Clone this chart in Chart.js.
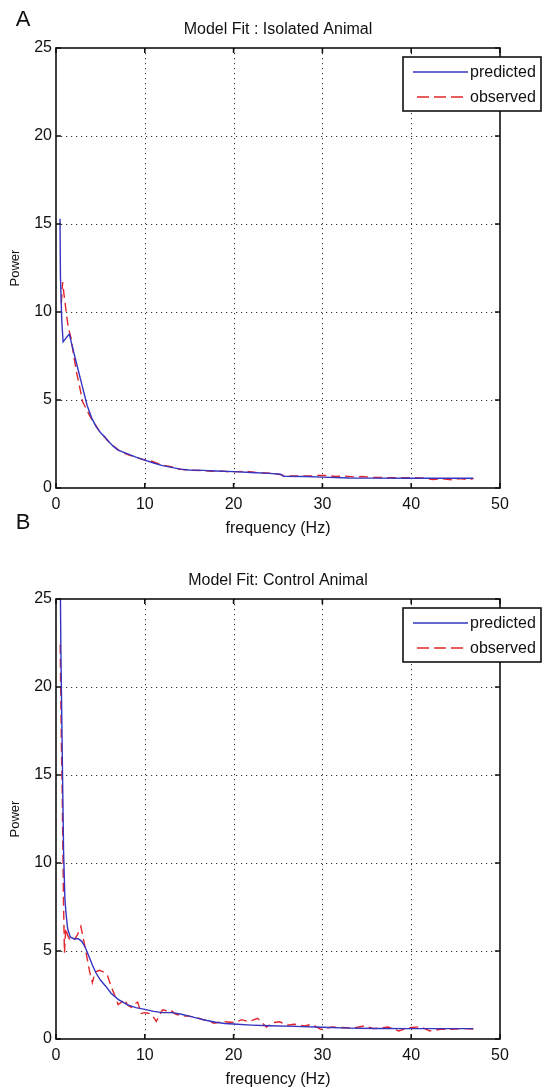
<!DOCTYPE html>
<html>
<head>
<meta charset="utf-8">
<script src="https://cdn.jsdelivr.net/npm/chart.js@4.4.1/dist/chart.umd.min.js"></script>
<style>
  html, body { margin: 0; padding: 0; background: #fff; }
  canvas { position: absolute; left: 0; }
</style>
</head>
<body>
<canvas id="chartA" width="545" height="545" style="top:0"></canvas>
<canvas id="chartB" width="545" height="589" style="top:500px"></canvas>
<script>
// ======================================================================
// DATA — power spectra (Hz vs power)
// ======================================================================
const xTicks = [0, 10, 20, 30, 40, 50];
const yTicks = [0, 5, 10, 15, 20, 25];

// Isolated animal — model prediction
const isoPredFreq  = [0.45, 0.5, 0.65, 0.8, 1.1, 1.5, 1.9, 2.3, 2.7, 3.1, 3.5, 4.0, 4.5, 5.0, 5.5, 6.0, 6.5, 7.0, 7.5, 8.0, 9.0, 10.0, 11.0, 12.0, 13.0, 14.0, 15.0, 16.5, 18.0, 20.0, 22.0, 24.0, 25.3, 25.6, 28.0, 30.0, 33.0, 36.0, 40.0, 44.0, 47.0];
const isoPredPower = [15.3, 12.0, 9.5, 8.3, 8.5, 8.75, 7.9, 7.1, 6.3, 5.5, 4.7, 4.0, 3.5, 3.15, 2.9, 2.6, 2.35, 2.15, 2.05, 1.95, 1.75, 1.58, 1.42, 1.27, 1.17, 1.07, 1.02, 1.0, 0.97, 0.93, 0.88, 0.83, 0.78, 0.67, 0.65, 0.62, 0.57, 0.56, 0.55, 0.55, 0.55];

// Isolated animal — observed spectrum
const isoObsFreq  = [0.6, 0.75, 0.9, 1.1, 1.3, 1.5, 1.7, 2.0, 2.3, 2.6, 3.0, 3.4, 3.8, 4.3, 4.8, 5.3, 5.8, 6.3, 6.8, 7.3, 7.8, 8.3, 8.8, 9.3, 9.8, 10.3, 10.8, 11.3, 11.8, 12.3, 12.8, 13.3, 13.8, 14.5, 15.5, 16.5, 17.5, 18.5, 19.5, 20.5, 21.5, 22.5, 23.5, 24.5, 25.5, 26.5, 27.5, 28.5, 29.5, 30.5, 31.5, 32.5, 33.5, 34.5, 35.5, 36.5, 37.5, 38.5, 39.5, 40.5, 41.5, 42.5, 43.5, 44.5, 45.5, 46.5, 47.0];
const isoObsPower = [10.5, 11.7, 11.0, 10.2, 9.4, 8.9, 8.5, 7.5, 6.6, 5.9, 4.9, 4.5, 4.1, 3.7, 3.3, 3.0, 2.7, 2.45, 2.25, 2.05, 1.95, 1.85, 1.8, 1.7, 1.62, 1.57, 1.52, 1.42, 1.32, 1.27, 1.22, 1.17, 1.08, 1.03, 1.0, 0.99, 0.95, 0.97, 0.92, 0.93, 0.95, 0.88, 0.85, 0.83, 0.73, 0.68, 0.68, 0.68, 0.71, 0.71, 0.65, 0.68, 0.63, 0.65, 0.6, 0.6, 0.58, 0.58, 0.58, 0.58, 0.55, 0.48, 0.53, 0.47, 0.53, 0.47, 0.53];

// Control animal — model prediction
const ctlPredFreq  = [0.42, 0.55, 0.7, 0.85, 1.0, 1.1, 1.3, 1.6, 2.0, 2.5, 2.9, 3.3, 3.7, 4.1, 4.5, 5.0, 5.6, 6.2, 7.0, 8.0, 9.0, 10.0, 11.0, 12.0, 13.0, 14.0, 15.0, 16.0, 17.0, 18.0, 19.0, 20.0, 22.0, 24.0, 27.0, 30.0, 33.0, 36.0, 40.0, 44.0, 47.0];
const ctlPredPower = [30.0, 22.0, 16.4, 10.7, 8.0, 7.3, 6.3, 5.8, 5.7, 5.7, 5.55, 5.2, 4.7, 4.2, 3.75, 3.35, 3.0, 2.6, 2.25, 1.95, 1.78, 1.68, 1.57, 1.5, 1.5, 1.42, 1.3, 1.17, 1.05, 0.95, 0.88, 0.85, 0.79, 0.75, 0.72, 0.67, 0.62, 0.6, 0.59, 0.59, 0.59];

// Control animal — observed spectrum
const ctlObsFreq  = [0.47, 0.6, 0.7, 0.78, 0.85, 0.95, 1.1, 1.3, 1.6, 2.0, 2.4, 2.8, 3.2, 3.5, 3.8, 4.1, 4.4, 4.9, 5.4, 5.8, 6.2, 6.6, 7.0, 7.4, 7.7, 8.1, 8.5, 8.9, 9.2, 9.6, 10.0, 10.5, 10.9, 11.3, 11.7, 12.0, 12.5, 12.9, 13.5, 14.0, 14.5, 15.0, 15.5, 16.0, 16.5, 17.0, 17.8, 18.4, 19.0, 20.1, 20.9, 21.7, 22.7, 23.7, 24.4, 25.2, 26.0, 26.8, 28.0, 28.8, 29.8, 31.1, 32.7, 33.5, 34.7, 35.8, 37.4, 38.6, 39.8, 41.0, 42.1, 43.3, 44.5, 45.9, 47.0];
const ctlObsPower = [22.4, 17.0, 14.0, 10.5, 7.7, 4.9, 6.3, 5.9, 5.6, 5.6, 5.9, 6.4, 5.4, 4.6, 3.8, 3.2, 3.8, 3.9, 3.8, 3.6, 3.0, 2.5, 1.95, 2.1, 2.25, 1.9, 1.8, 2.0, 2.1, 1.45, 1.5, 1.45, 1.3, 1.0, 1.4, 1.66, 1.6, 1.65, 1.4, 1.35, 1.3, 1.3, 1.25, 1.2, 1.1, 1.05, 0.9, 0.95, 0.98, 0.93, 1.1, 0.98, 1.18, 0.68, 0.93, 0.98, 0.78, 0.84, 0.74, 0.84, 0.55, 0.68, 0.64, 0.62, 0.74, 0.59, 0.68, 0.46, 0.64, 0.7, 0.46, 0.55, 0.55, 0.59, 0.57];

const BLUE = "#3434c0";
const RED = "#e2262b";
const FONT = "'Liberation Sans', Arial, sans-serif";

function toPoints(xs, ys) {
  return xs.map((x, i) => ({ x, y: ys[i] }));
}

// ======================================================================
// MATLAB-STYLE FRAME, DOTTED GRID, LEGEND AND LABELS
// ======================================================================
function panelDecor(cfg) {
  return {
    id: "panelDecor",
    beforeDatasetsDraw(chart) {
      const { ctx, chartArea: a, scales: { x, y } } = chart;
      ctx.save();
      ctx.strokeStyle = "#333";
      ctx.lineWidth = 1;
      ctx.setLineDash([1.2, 3.8]);
      ctx.beginPath();
      xTicks.slice(1, -1).forEach(v => {
        const px = Math.round(x.getPixelForValue(v)) + 0.5;
        ctx.moveTo(px, a.top); ctx.lineTo(px, a.bottom);
      });
      yTicks.slice(1, -1).forEach(v => {
        const py = Math.round(y.getPixelForValue(v)) + 0.5;
        ctx.moveTo(a.left, py); ctx.lineTo(a.right, py);
      });
      ctx.stroke();
      ctx.restore();
    },
    afterDraw(chart) {
      const { ctx, chartArea: a, scales: { x, y } } = chart;
      ctx.save();

      // box + inward ticks
      ctx.strokeStyle = "#111";
      ctx.lineWidth = 1.6;
      ctx.strokeRect(a.left, a.top, a.right - a.left, a.bottom - a.top);
      ctx.beginPath();
      const tl = 5;
      xTicks.forEach(v => {
        const px = x.getPixelForValue(v);
        ctx.moveTo(px, a.bottom); ctx.lineTo(px, a.bottom - tl);
        ctx.moveTo(px, a.top); ctx.lineTo(px, a.top + tl);
      });
      yTicks.forEach(v => {
        const py = y.getPixelForValue(v);
        ctx.moveTo(a.left, py); ctx.lineTo(a.left + tl, py);
        ctx.moveTo(a.right, py); ctx.lineTo(a.right - tl, py);
      });
      ctx.stroke();

      // legend
      const lx = a.right - 97, ly = a.top + 9, lw = 138, lh = 54;
      ctx.fillStyle = "#fff";
      ctx.fillRect(lx, ly, lw, lh);
      ctx.lineWidth = 1.6;
      ctx.strokeStyle = "#111";
      ctx.strokeRect(lx, ly, lw, lh);
      ctx.lineWidth = 1.4;
      ctx.strokeStyle = BLUE;
      ctx.beginPath(); ctx.moveTo(lx + 10, ly + 15); ctx.lineTo(lx + 65, ly + 15); ctx.stroke();
      ctx.strokeStyle = RED;
      ctx.setLineDash([12, 5]);
      ctx.beginPath(); ctx.moveTo(lx + 14, ly + 40); ctx.lineTo(lx + 65, ly + 40); ctx.stroke();
      ctx.setLineDash([]);
      ctx.fillStyle = "#111";
      ctx.font = "16px " + FONT;
      ctx.textAlign = "left";
      ctx.textBaseline = "middle";
      ctx.fillText("predicted", lx + 67, ly + 16);
      ctx.fillText("observed", lx + 67, ly + 41);

      // titles and axis labels
      const cx = (a.left + a.right) / 2;
      ctx.textAlign = "center";
      ctx.font = "16px " + FONT;
      ctx.fillText(cfg.title, cx, cfg.titleY);
      ctx.fillText("frequency (Hz)", cx, a.bottom + 41);
      ctx.font = "22px " + FONT;
      ctx.fillText(cfg.letter, 23, cfg.letterY);
      ctx.save();
      ctx.translate(15, (a.top + a.bottom) / 2);
      ctx.rotate(-Math.PI / 2);
      ctx.font = "13px " + FONT;
      ctx.fillText("Power", 0, 0);
      ctx.restore();

      ctx.restore();
    }
  };
}

// ======================================================================
// CHART BUILDER
// ======================================================================
function drawPanel(canvasId, cfg, pred, obs) {
  const ctx = document.getElementById(canvasId).getContext("2d");
  return new Chart(ctx, {
    type: "line",
    data: {
      datasets: [
        {
          label: "predicted",
          data: pred,
          borderColor: BLUE,
          borderWidth: 1.4,
          pointRadius: 0,
          tension: 0,
          clip: 0
        },
        {
          label: "observed",
          data: obs,
          borderColor: RED,
          borderWidth: 1.4,
          borderDash: [9, 5],
          pointRadius: 0,
          tension: 0,
          clip: 0
        }
      ]
    },
    options: {
      responsive: false,
      animation: false,
      layout: { padding: { left: 0, right: 45, top: cfg.padTop, bottom: 0 } },
      plugins: { legend: { display: false }, tooltip: { enabled: false } },
      scales: {
        x: {
          type: "linear",
          min: 0,
          max: 50,
          afterBuildTicks: s => { s.ticks = xTicks.map(v => ({ value: v })); },
          afterFit: s => { s.height = cfg.xAxisH; },
          grid: { display: false, drawTicks: false },
          border: { display: false },
          ticks: { color: "#111", font: { family: FONT, size: 16 }, padding: 7, maxRotation: 0 }
        },
        y: {
          type: "linear",
          min: 0,
          max: 25,
          afterBuildTicks: s => { s.ticks = yTicks.map(v => ({ value: v })); },
          afterFit: s => { s.width = 56; },
          grid: { display: false, drawTicks: false },
          border: { display: false },
          ticks: { color: "#111", font: { family: FONT, size: 16 }, padding: 4 }
        }
      }
    },
    plugins: [panelDecor(cfg)]
  });
}

// ======================================================================
// INICIO
// ======================================================================
drawPanel("chartA",
  { title: "Model Fit : Isolated Animal", titleY: 30, letter: "A", letterY: 20, padTop: 48, xAxisH: 57 },
  toPoints(isoPredFreq, isoPredPower),
  toPoints(isoObsFreq, isoObsPower));

drawPanel("chartB",
  { title: "Model Fit: Control Animal", titleY: 81, letter: "B", letterY: 23, padTop: 99, xAxisH: 50 },
  toPoints(ctlPredFreq, ctlPredPower),
  toPoints(ctlObsFreq, ctlObsPower));
</script>
</body>
</html>
